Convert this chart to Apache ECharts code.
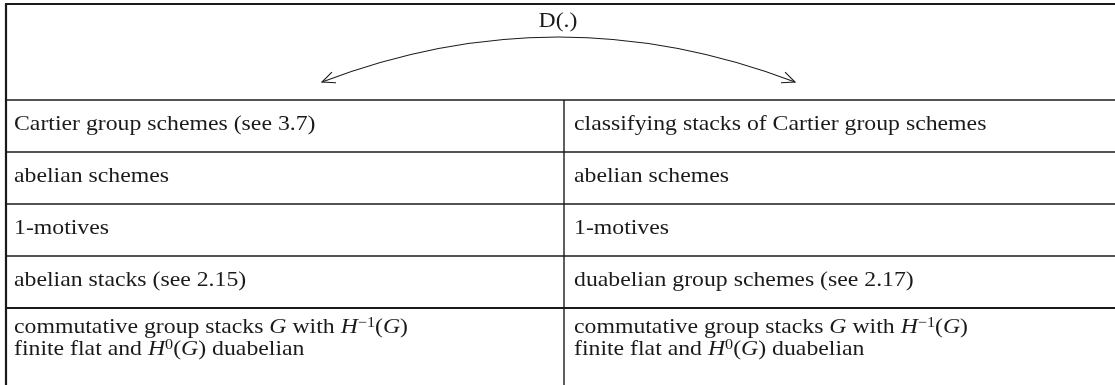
<!DOCTYPE html>
<html>
<head>
<meta charset="utf-8">
<script src="https://cdn.jsdelivr.net/npm/echarts@6/dist/echarts.min.js"></script>
<style>
html, body { margin: 0; padding: 0; background: #fff; }
#chart { width: 1115px; height: 385px; }
</style>
</head>
<body>
<div id="chart"></div>
<script>
// table content
var headerLabel = 'D(.)'
var leftCells = [
  'Cartier group schemes (see 3.7)',
  'abelian schemes',
  '1-motives',
  'abelian stacks (see 2.15)',
  'commutative group stacks {i|G} with {i|H}{sup|−1}({i|G})\nfinite flat and {i|H}{sup|0}({i|G}) duabelian'
]
var rightCells = [
  'classifying stacks of Cartier group schemes',
  'abelian schemes',
  '1-motives',
  'duabelian group schemes (see 2.17)',
  'commutative group stacks {i|G} with {i|H}{sup|−1}({i|G})\nfinite flat and {i|H}{sup|0}({i|G}) duabelian'
]

var chart = echarts.init(document.getElementById('chart'), null, { renderer: 'canvas' })

// layout
var W = 1115, H = 385
var tblLeft = 6, tblTop = 4, midX = 564
var headerBottom = 100
var rowH = 52
var font = '"Liberation Serif", "DejaVu Serif", serif'
var fs = 22
var stretch = 1.08 // computer modern is wider than times
var ink = '#1a1a1a'

var rich = {
  i: { fontStyle: 'italic', fontFamily: font, fontSize: fs, color: ink },
  sup: { fontFamily: font, fontSize: 15, color: ink, verticalAlign: 'top', lineHeight: 22 }
}

var g = []

// outer borders
g.push({ type: 'line', shape: { x1: tblLeft - 1, y1: tblTop, x2: W + 5, y2: tblTop }, style: { stroke: ink, lineWidth: 2.2 } })
g.push({ type: 'line', shape: { x1: tblLeft, y1: tblTop, x2: tblLeft, y2: H + 5 }, style: { stroke: ink, lineWidth: 2.2 } })

// horizontal rules
var rowTops = [headerBottom]
leftCells.forEach(function (c, i) { rowTops.push(headerBottom + (i + 1) * rowH) })
rowTops.slice(0, leftCells.length).forEach(function (y, i) {
  var last = i === leftCells.length - 1
  g.push({ type: 'line', shape: { x1: tblLeft, y1: y, x2: W + 5, y2: y }, style: { stroke: ink, lineWidth: last ? 2.2 : 1.4 } })
})
// middle vertical rule
g.push({ type: 'line', shape: { x1: midX, y1: headerBottom, x2: midX, y2: H + 5 }, style: { stroke: ink, lineWidth: 1.4 } })

// header label and arrow
g.push({
  type: 'text', x: 558, y: 21, scaleX: stretch,
  style: { text: headerLabel, fontFamily: font, fontSize: fs, fill: ink, align: 'center', verticalAlign: 'middle' }
})
var ax1 = 322, ay1 = 82, ax2 = 795, ay2 = 82, cx = 558, cy = -8
g.push({
  type: 'bezierCurve',
  shape: { x1: ax1, y1: ay1, x2: ax2, y2: ay2, cpx1: cx, cpy1: cy },
  style: { stroke: ink, lineWidth: 1.1, fill: null }
})
function barbs(px, py, dx, dy) {
  var len = Math.sqrt(dx * dx + dy * dy)
  dx /= len; dy /= len
  var L = 14, a = 0.42
  var pts = []
  ;[a, -a].forEach(function (ang) {
    var c = Math.cos(ang), s = Math.sin(ang)
    var bx = -(dx * c - dy * s), by = -(dx * s + dy * c)
    pts.push([px + bx * L, py + by * L])
  })
  g.push({
    type: 'polyline',
    shape: { points: [pts[0], [px, py], pts[1]] },
    style: { stroke: ink, lineWidth: 1.1, fill: null }
  })
}
barbs(ax1, ay1, ax1 - cx, ay1 - cy)
barbs(ax2, ay2, ax2 - cx, ay2 - cy)

// cell texts
function cellText(txt, x, i) {
  var last = i === leftCells.length - 1
  var y = last ? rowTops[i] + 8 : rowTops[i] + rowH / 2 - 2
  g.push({
    type: 'text', x: x, y: y, scaleX: stretch,
    style: {
      text: txt, rich: rich, fontFamily: font, fontSize: fs, fill: ink,
      lineHeight: 22, align: 'left', verticalAlign: last ? 'top' : 'middle'
    }
  })
}
leftCells.forEach(function (t, i) { cellText(t, tblLeft + 8, i) })
rightCells.forEach(function (t, i) { cellText(t, midX + 10, i) })

chart.setOption({
  backgroundColor: '#fff',
  animation: false,
  graphic: { elements: g }
})
</script>
</body>
</html>
